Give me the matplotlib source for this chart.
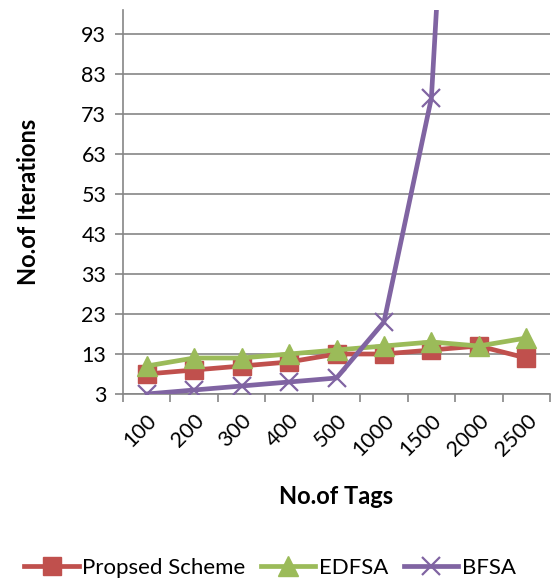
import matplotlib.pyplot as plt
from matplotlib.ticker import FixedLocator

plt.rcParams['font.family'] = ['Lato', 'DejaVu Sans']

tags = ["100", "200", "300", "400", "500", "1000", "1500", "2000", "2500"]
proposed = [8, 9, 10, 11, 13, 13, 14, 15, 12]
edfsa = [10, 12, 12, 13, 14, 15, 16, 15, 17]
bfsa = [3, 4, 5, 6, 7, 21, 77, 284, 400]
y_ticks = [3, 13, 23, 33, 43, 53, 63, 73, 83, 93]

grid_col = "#868686"

fig = plt.figure(figsize=(5.51, 5.83), dpi=100)
ax = fig.add_axes([123 / 551, 1 - 394 / 583, (550 - 123) / 551, (394 - 10) / 583])

x = list(range(1, len(tags) + 1))
ax.plot(x, proposed, color="#C0504D", lw=3.4, marker="s", ms=12.5,
        label="Propsed Scheme", zorder=3)
ax.plot(x, edfsa, color="#9BBB59", lw=3.4, marker="^", ms=14,
        label="EDFSA", zorder=4)
ax.plot(x, bfsa, color="#8064A2", lw=3.4, marker="x", ms=13, mew=1.6,
        label="BFSA", zorder=5)

ax.set_xlim(0.5, len(tags) + 0.5)
ax.set_ylim(3, 99)
ax.set_yticks(y_ticks)
ax.set_xticks(x)
ax.set_xticklabels(tags, rotation=45, ha="right", va="top", rotation_mode="anchor")
ax.xaxis.set_minor_locator(FixedLocator([i + 0.5 for i in range(len(tags) + 1)]))
ax.tick_params(axis="x", which="major", length=0, pad=12, labelsize=15.5)
ax.tick_params(axis="x", which="minor", length=6, width=1.2, color=grid_col)
ax.tick_params(axis="y", length=6, width=1.2, color=grid_col, labelsize=15.5, pad=6)

ax.grid(axis="y", color=grid_col, lw=1.2)
ax.set_axisbelow(True)
for side in ("top", "right"):
    ax.spines[side].set_visible(False)
for side in ("left", "bottom"):
    ax.spines[side].set_color(grid_col)
    ax.spines[side].set_linewidth(1.2)

ax.set_xlabel("No.of Tags", fontsize=17, fontweight="bold", labelpad=18)
ax.set_ylabel("No.of Iterations", fontsize=17, fontweight="bold", labelpad=30)

fig.legend(loc="center", bbox_to_anchor=(0.49, 1 - 568 / 583), ncol=3,
           frameon=False, fontsize=16, handlelength=2.45, handletextpad=0.15,
           columnspacing=0.7)

fig.savefig("out.png", dpi=100)
